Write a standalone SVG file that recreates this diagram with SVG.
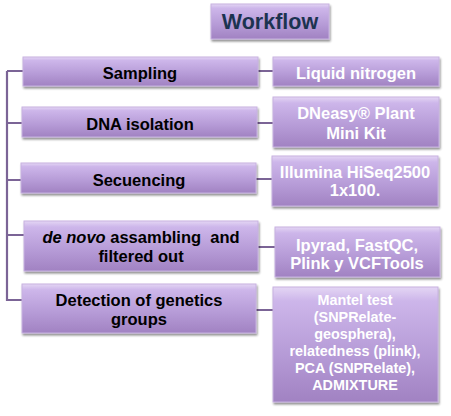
<svg xmlns="http://www.w3.org/2000/svg" width="451" height="416" viewBox="0 0 451 416">
<defs>
<linearGradient id="g" x1="0" y1="0" x2="0" y2="1">
<stop offset="0" stop-color="#e4d6f4"/>
<stop offset="0.12" stop-color="#cdb6ea"/>
<stop offset="0.6" stop-color="#b59ad6"/>
<stop offset="1" stop-color="#a182c2"/>
</linearGradient>
<filter id="sh" x="-10%" y="-10%" width="120%" height="130%">
<feGaussianBlur in="SourceAlpha" stdDeviation="1.2"/>
<feOffset dx="1" dy="2" result="b"/>
<feComponentTransfer><feFuncA type="linear" slope="0.45"/></feComponentTransfer>
<feMerge><feMergeNode/><feMergeNode in="SourceGraphic"/></feMerge>
</filter>
</defs>
<style>
.box{fill:url(#g);stroke:#c7b2e0;stroke-width:1;filter:url(#sh)}
.l{font-family:"Liberation Sans",Arial,sans-serif;font-weight:bold;font-size:16.5px;fill:#000;text-anchor:middle;white-space:pre}
.r{font-family:"Liberation Sans",Arial,sans-serif;font-weight:bold;font-size:16.5px;fill:#fff;text-anchor:middle}
.rs{font-family:"Liberation Sans",Arial,sans-serif;font-weight:bold;font-size:14.4px;fill:#fff;text-anchor:middle}
.t{font-family:"Liberation Sans",Arial,sans-serif;font-weight:bold;font-size:21.5px;fill:#1c3350;text-anchor:middle}
.c{stroke:#7b6496;stroke-width:2.2;fill:none}
</style>
<rect width="451" height="416" fill="#fff"/>
<g id="connectors">
<path class="c" d="M7,71 V300 H22"/>
<path class="c" d="M7,71 H23 M7,123 H22 M7,180 H21 M7,235 H24"/>
<path class="c" d="M258,71 H273 M257,123 H273 M256,179 H272 M258,247 H275 M256,310 H273"/>
</g>
<g id="title">
<rect class="box" x="211" y="4" width="118" height="35"/>
<text class="t" x="270" y="29">Workflow</text>
</g>
<g id="sampling">
<rect class="box" x="23" y="57" width="235" height="29"/>
<text class="l" x="140" y="79">Sampling</text>
</g>
<g id="liquid">
<rect class="box" x="273" y="57" width="166" height="29"/>
<text class="r" x="356" y="79">Liquid nitrogen</text>
</g>
<g id="dna">
<rect class="box" x="22" y="107" width="235" height="30"/>
<text class="l" x="140" y="130">DNA isolation</text>
</g>
<g id="dneasy">
<rect class="box" x="273" y="97" width="166" height="50"/>
<text class="r" x="356" y="119">DNeasy® Plant</text>
<text class="r" x="356" y="139">Mini Kit</text>
</g>
<g id="secuencing">
<rect class="box" x="21" y="163" width="235" height="30"/>
<text class="l" x="139" y="186">Secuencing</text>
</g>
<g id="illumina">
<rect class="box" x="272" y="156" width="166" height="50"/>
<text class="r" x="355" y="178">Illumina HiSeq2500</text>
<text class="r" x="355" y="196">1x100.</text>
</g>
<g id="denovo">
<rect class="box" x="24" y="221" width="234" height="50"/>
<text class="l" x="141" y="243"><tspan font-style="italic">de novo</tspan> assambling  and</text>
<text class="l" x="141" y="262">filtered out</text>
</g>
<g id="ipyrad">
<rect class="box" x="275" y="227" width="165" height="50"/>
<text class="r" x="357" y="251">Ipyrad, FastQC,</text>
<text class="r" x="357" y="269">Plink y VCFTools</text>
</g>
<g id="detection">
<rect class="box" x="22" y="284" width="234" height="49"/>
<text class="l" x="139" y="306">Detection of genetics</text>
<text class="l" x="139" y="325">groups</text>
</g>
<g id="mantel">
<rect class="box" x="273" y="287" width="165" height="115"/>
<text class="rs" x="355" y="305">Mantel test</text>
<text class="rs" x="355" y="322">(SNPRelate-</text>
<text class="rs" x="355" y="339">geosphera),</text>
<text class="rs" x="355" y="356">relatedness (plink),</text>
<text class="rs" x="355" y="373">PCA (SNPRelate),</text>
<text class="rs" x="355" y="390">ADMIXTURE</text>
</g>
</svg>
